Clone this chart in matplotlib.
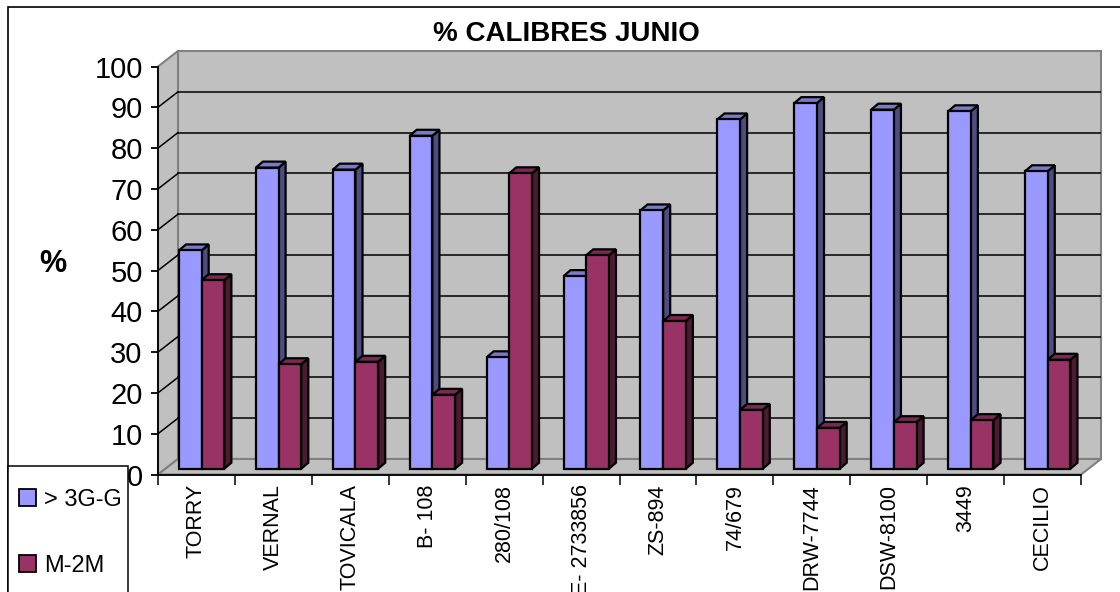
import matplotlib.pyplot as plt
from matplotlib.patches import Polygon, Rectangle, Patch

plt.rcParams['font.family'] = ['Liberation Sans', 'DejaVu Sans']

# Chart data
categories = ['TORRY', 'VERNAL', 'TOVICALA', 'B- 108', '280/108', 'E- 2733856',
              'ZS-894', '74/679', 'DRW-7744', 'DSW-8100', '3449', 'CECILIO']
big_pct = [53.5, 73.8, 73.3, 81.6, 27.3, 47.2, 63.3, 85.6, 89.6, 88.0, 87.6, 72.9]
small_pct = [46.2, 25.6, 26.2, 18.1, 72.4, 52.3, 36.2, 14.4, 10.0, 11.4, 11.9, 26.7]
series_names = ['> 3G-G', 'M-2M']
yticks = list(range(0, 101, 10))

# colours (front, side, top)
blue = ('#9999FF', '#4D4D80', '#7A7ACC')
wine = ('#993366', '#4D1A33', '#7A2952')
wall = '#C0C0C0'

# 3D offsets in data units
wall_dx, wall_dy = 0.26, 3.8      # back wall shift
bar_dx, bar_dy = 0.092, 1.47      # depth of a bar
base_y = 1.42                     # bars stand a bit behind the front edge
bar_w = 0.295

W, H = 1120, 592
fig = plt.figure(figsize=(W / 100, H / 100), dpi=100)
ax = fig.add_axes([158 / W, (H - 474.5) / H, 943 / W, 423.5 / H])
n = len(categories)
ax.set_xlim(-0.5, n - 0.5 + wall_dx)
ax.set_ylim(0, 100 + wall_dy)
ax.patch.set_visible(False)

# walls and floor
x0, x1 = -0.5, n - 0.5
back = Rectangle((x0 + wall_dx, wall_dy), x1 - x0, 100, facecolor=wall,
                 edgecolor='#808080', lw=1.5, zorder=0)
side = Polygon([(x0, 0), (x0 + wall_dx, wall_dy), (x0 + wall_dx, 100 + wall_dy), (x0, 100)],
               closed=True, facecolor=wall, edgecolor='#808080', lw=1.5, zorder=0)
floor = Polygon([(x0, 0), (x1, 0), (x1 + wall_dx, wall_dy), (x0 + wall_dx, wall_dy)],
                closed=True, facecolor=wall, edgecolor='#808080', lw=1.5, zorder=0)
for p in (back, side, floor):
    p.set_clip_on(False)
    ax.add_patch(p)

for v in yticks[1:-1]:
    ax.plot([x0 + wall_dx, x1 + wall_dx], [v + wall_dy, v + wall_dy], color='black', lw=1.1, zorder=1)
    ax.plot([x0, x0 + wall_dx], [v, v + wall_dy], color='black', lw=1.1, zorder=1, clip_on=False)


def draw_bars(xs, vals, cols, z):
    ax.bar(xs, vals, width=bar_w, bottom=base_y, align='edge',
           color=cols[0], edgecolor='black', lw=1.6, zorder=z + 2)
    for x, v in zip(xs, vals):
        top = base_y + v
        sd = Polygon([(x + bar_w, base_y), (x + bar_w + bar_dx, base_y + bar_dy),
                      (x + bar_w + bar_dx, top + bar_dy), (x + bar_w, top)],
                     closed=True, facecolor=cols[1], edgecolor='black', lw=1.6, zorder=z)
        tp = Polygon([(x, top), (x + bar_w, top), (x + bar_w + bar_dx, top + bar_dy),
                      (x + bar_dx, top + bar_dy)],
                     closed=True, facecolor=cols[2], edgecolor='black', lw=1.6, zorder=z + 1)
        ax.add_patch(sd)
        ax.add_patch(tp)


idx = list(range(n))
draw_bars([i - 0.228 for i in idx], big_pct, blue, 3)
draw_bars([i - 0.228 + bar_w for i in idx], small_pct, wine, 6)

# axes lines and ticks
for s in ('top', 'right'):
    ax.spines[s].set_visible(False)
ax.spines['left'].set_bounds(0, 100)
ax.spines['bottom'].set_bounds(x0, x1)
for s in ('left', 'bottom'):
    ax.spines[s].set_linewidth(1.3)
    ax.spines[s].set_zorder(20)
ax.set_yticks(yticks)
ax.set_yticklabels([str(v) for v in yticks])
ax.tick_params(axis='y', length=5, width=1.3, pad=6, colors='black', labelsize=21)
ax.set_xticks([i - 0.5 for i in range(n + 1)])
ax.set_xticklabels([])
ax.set_xticks(idx, minor=True)
ax.set_xticklabels(categories, minor=True, rotation=90, va='top', ha='center')
ax.tick_params(axis='x', which='major', length=7, width=1.1, color='black')
ax.tick_params(axis='x', which='minor', length=0, pad=7, labelsize=15.5)

# title and y label
fig.text(566 / W, 1 - 34 / H, '% CALIBRES JUNIO', fontsize=20, fontweight='bold',
         ha='center', va='center')
fig.text(53 / W, 1 - 264 / H, '%', fontsize=22, fontweight='bold', ha='center', va='center')

# outer chart border
fig.patches.append(Rectangle((8 / W, -0.1), 2, (H - 6.5) / H + 0.1, transform=fig.transFigure,
                             fill=False, edgecolor='black', lw=1.2, zorder=0))

# legend box
fig.patches.append(Rectangle((8 / W, -0.1), 120 / W, (H - 466) / H + 0.1,
                             transform=fig.transFigure, facecolor='white',
                             edgecolor='black', lw=1.1, zorder=1))
handles = [Patch(facecolor=blue[0], edgecolor='black', lw=1.3),
           Patch(facecolor=wine[0], edgecolor='black', lw=1.3)]
fig.legend(handles, series_names, loc='upper left', bbox_to_anchor=(19 / W, 1 - 489 / H),
           frameon=False, fontsize=17, handlelength=0.72, handleheight=0.72,
           handletextpad=0.35, labelspacing=1.85, borderaxespad=0, borderpad=0)

fig.savefig('out.png', dpi=100, facecolor='white')
